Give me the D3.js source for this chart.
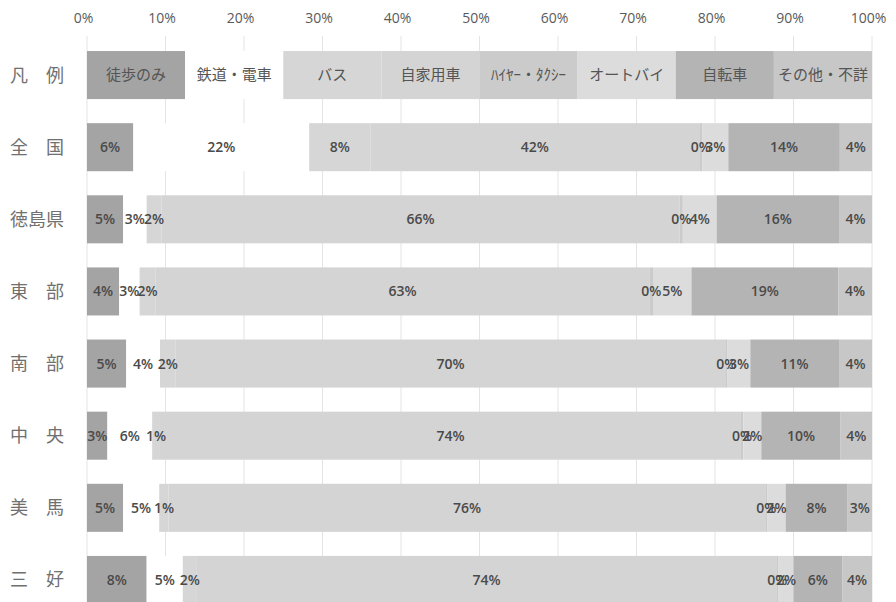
<!DOCTYPE html>
<html>
<head>
<meta charset="utf-8">
<script src="https://cdn.jsdelivr.net/npm/d3@7"></script>
<style>
  html, body { margin: 0; padding: 0; background: #fff; }
  svg { display: block; }
</style>
</head>
<body>
<svg id="chart" width="896" height="602"></svg>
<script>
// ---- data ----
const rowLabels = ["凡　例", "全　国", "徳島県", "東　部", "南　部", "中　央", "美　馬", "三　好"];
const regions   = ["全　国", "徳島県", "東　部", "南　部", "中　央", "美　馬", "三　好"];
const modes     = ["徒歩のみ", "鉄道・電車", "バス", "自家用車", "ﾊｲﾔｰ・ﾀｸｼｰ", "オートバイ", "自転車", "その他・不詳"];
const legendShare = [12.5, 12.5, 12.5, 12.5, 12.5, 12.5, 12.5, 12.5];
// share (%) for each region, in the order of `regions`
const walkOnly   = [5.9, 4.6, 4.1, 5.0, 2.6, 4.6, 7.6];
const railTrain  = [22.4, 3.0, 2.6, 4.3, 5.7, 4.6, 4.6];
const bus        = [7.8, 1.9, 2.0, 2.0, 1.0, 1.2, 1.8];
const privateCar = [41.9, 66.0, 63.0, 70.0, 74.0, 76.0, 73.8];
const hireTaxi   = [0.4, 0.4, 0.4, 0.3, 0.3, 0.3, 0.3];
const motorbike  = [3.3, 4.3, 4.9, 2.9, 2.3, 2.3, 1.9];
const bicycle    = [14.2, 15.6, 18.7, 11.3, 10.1, 7.9, 6.2];
const otherUnk   = [4.1, 4.2, 4.3, 4.2, 4.0, 3.1, 3.8];
const tickValues = [0, 10, 20, 30, 40, 50, 60, 70, 80, 90, 100];

const series = [walkOnly, railTrain, bus, privateCar, hireTaxi, motorbike, bicycle, otherUnk];
const colors = ["#a4a4a4", "#ffffff", "#d6d6d6", "#d4d4d4", "#cbcbcb", "#dcdcdc", "#b4b4b4", "#c7c7c7"];

// ---- build rows ----
const table = [];
table.push({ row: rowLabels[0], legend: true, values: legendShare });
regions.forEach((r, i) => table.push({ row: r, legend: false, values: series.map(s => s[i]) }));

const svg = d3.select("#chart");
const x = d3.scaleLinear().domain([0, 100]).range([87, 872]);
const y = d3.scaleBand().domain(rowLabels).range([39, 616]).paddingInner(0.334).paddingOuter(0.167);

// gridlines
svg.append("g").selectAll("line").data(tickValues).join("line")
  .attr("x1", d => x(d)).attr("x2", d => x(d))
  .attr("y1", 36).attr("y2", 602)
  .attr("stroke", "#e4e4e4").attr("stroke-width", 1);

// axis labels on top
const axis = d3.axisTop(x).tickValues(tickValues).tickFormat(d => d + "%").tickSize(0).tickPadding(0);
const ag = svg.append("g").attr("transform", "translate(-4,23)").call(axis);
ag.select(".domain").remove();
ag.selectAll("text").attr("font-family", "'Open Sans', 'Noto Sans', sans-serif")
  .attr("font-size", 14).attr("fill", "#5a5a5a");

// row labels
svg.append("g").selectAll("text").data(rowLabels).join("text")
  .attr("x", 10).attr("y", d => y(d) + y.bandwidth() / 2)
  .attr("dy", "0.36em")
  .attr("font-family", "'Noto Sans CJK JP', sans-serif")
  .attr("font-size", 18).attr("fill", "#707070")
  .text(d => d);

// bars
const fmt = d3.format(".0f");
table.forEach(rec => {
  let acc = 0;
  const segs = rec.values.map((v, k) => {
    const s = { k, v, x0: acc, x1: acc + v };
    acc += v;
    return s;
  });
  const g = svg.append("g").attr("transform", `translate(0,${y(rec.row)})`);
  g.selectAll("rect").data(segs).join("rect")
    .attr("x", d => x(d.x0)).attr("width", d => x(d.x1) - x(d.x0))
    .attr("y", 0).attr("height", y.bandwidth())
    .attr("fill", d => colors[d.k]);
  g.selectAll("text").data(segs).join("text")
    .attr("x", d => (x(d.x0) + x(d.x1)) / 2)
    .attr("y", y.bandwidth() / 2).attr("dy", "0.36em")
    .attr("text-anchor", "middle")
    .attr("font-family", rec.legend ? "'Noto Sans CJK JP', sans-serif" : "'Open Sans', 'Noto Sans', sans-serif")
    .attr("font-size", rec.legend ? 15 : 14)
    .attr("font-weight", rec.legend ? 400 : 600)
    .attr("fill", rec.legend ? "#555" : "#4a4a4a")
    .text(d => rec.legend ? modes[d.k] : fmt(d.v) + "%");
});
</script>
</body>
</html>
